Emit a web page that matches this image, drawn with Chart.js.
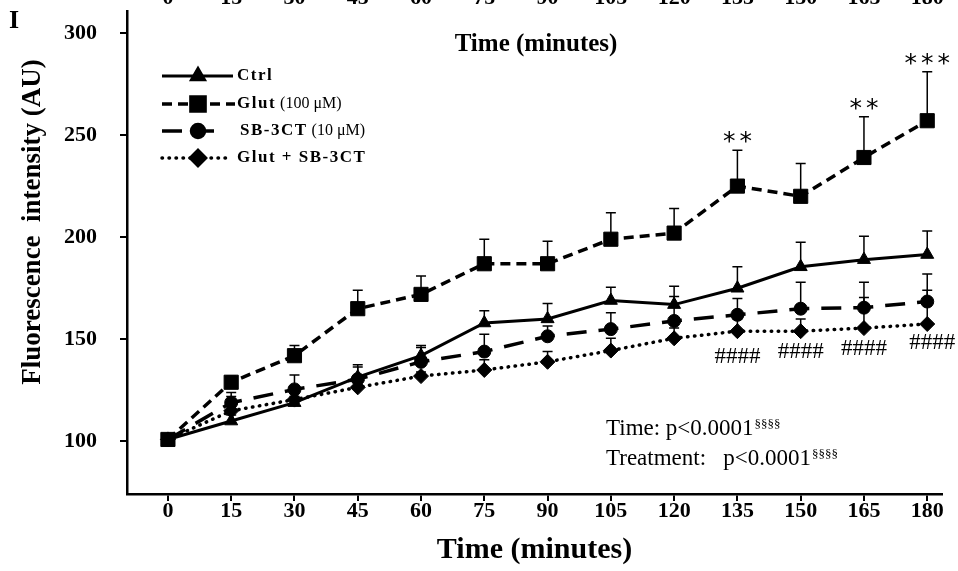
<!DOCTYPE html>
<html>
<head>
<meta charset="utf-8">
<script src="https://cdn.jsdelivr.net/npm/chart.js@4.4.1/dist/chart.umd.min.js"></script>
<style>
  body { margin: 0; background: #fff; }
  #wrap { width: 958px; height: 571px; }
</style>
</head>
<body>
<div id="wrap"><canvas id="board" width="958" height="571"></canvas></div>
<script>
// data
const times = [0, 15, 30, 45, 60, 75, 90, 105, 120, 135, 150, 165, 180];
const yTicks = [100, 150, 200, 250, 300];

const ctrl    = [101, 110, 119, 131.5, 142, 158, 160, 169, 167, 175, 185.5, 189, 191.5];
const ctrlErr = [0, 3, 3, 6, 5, 6, 7.5, 6.5, 9, 10.5, 12, 11.5, 11.5];
const glut    = [101, 129, 142, 165, 172, 187, 187, 199, 202, 225, 220, 239, 257];
const glutErr = [0, 3, 5, 9, 9, 12, 11, 13, 12, 17.5, 16, 20, 24];
const sb      = [101, 119, 125.5, 130.5, 139, 144, 151.5, 155, 159, 162, 165, 165.5, 168.5];
const sbErr   = [0, 5, 7, 6, 7, 8.5, 5, 8, 12, 8, 13, 12.5, 13.5];
const gs      = [101, 115, 120.5, 126.5, 132, 135, 139, 144.5, 150.5, 154, 154, 155.5, 157.5];
const gsErr   = [0, 7, 3, 3, 2, 5, 5, 6, 5, 6, 6, 15, 16.5];

const glutStars = ["", "", "", "", "", "", "", "", "", "**", "", "**", "***"];
const gsHash    = ["", "", "", "", "", "", "", "", "", "####", "####", "####", "####"];

const legendParts = [
  [["Ctrl", true]],
  [["Glut", true], [" (100\u00a0\u03bcM)", false]],
  [["SB-3CT", true], [" (10\u00a0\u03bcM)", false]],
  [["Glut + SB-3CT", true]]
];
const statLines = [["Time: p<0.0001", "\u00a7\u00a7\u00a7\u00a7"], ["Treatment:   p<0.0001", "\u00a7\u00a7\u00a7\u00a7"]];

const serif = "'Liberation Serif', 'Times New Roman', serif";

function pts(vals) {
  return times.map((t, i) => ({ x: t, y: vals[i] }));
}

const errs = [ctrlErr, glutErr, sbErr, gsErr];

const errorBars = {
  id: "errorBars",
  beforeDatasetsDraw(chart) {
    const ctx = chart.ctx;
    const ys = chart.scales.y;
    ctx.save();
    ctx.strokeStyle = "#000";
    ctx.lineWidth = 1.5;
    chart.data.datasets.forEach((ds, i) => {
      const meta = chart.getDatasetMeta(i);
      meta.data.forEach((p, j) => {
        const e = errs[i][j];
        if (!e) return;
        const top = ys.getPixelForValue(ds.data[j].y + e);
        ctx.beginPath();
        ctx.moveTo(p.x, p.y);
        ctx.lineTo(p.x, top);
        ctx.moveTo(p.x - 5, top);
        ctx.lineTo(p.x + 5, top);
        ctx.stroke();
      });
    });
    ctx.restore();
  }
};

const extras = {
  id: "extras",
  afterDraw(chart) {
    const ctx = chart.ctx;
    const xs = chart.scales.x, ys = chart.scales.y;
    ctx.save();
    ctx.fillStyle = "#000";

    // significance marks
    const gMeta = chart.getDatasetMeta(1);
    ctx.font = "25px 'DejaVu Sans'";
    ctx.textAlign = "center";
    ctx.textBaseline = "alphabetic";
    ctx.letterSpacing = "4px";
    glutStars.forEach((s, j) => {
      if (!s) return;
      const top = ys.getPixelForValue(glut[j] + glutErr[j]);
      ctx.fillText(s, gMeta.data[j].x + 2, top - 1);
    });
    ctx.letterSpacing = "0px";
    const hMeta = chart.getDatasetMeta(3);
    const hashDy = [26, 21, 21, 19];
    ctx.font = "23px " + serif;
    ctx.textBaseline = "middle";
    let k = 0;
    gsHash.forEach((s, j) => {
      if (!s) return;
      ctx.fillText(s, hMeta.data[j].x + (j === 12 ? 5 : 0), hMeta.data[j].y + hashDy[k++]);
    });

    // stats text
    ctx.textAlign = "left";
    ctx.textBaseline = "alphabetic";
    statLines.forEach((ln, i) => {
      const y = 435 + i * 30;
      ctx.font = "23px " + serif;
      ctx.fillText(ln[0], 606, y);
      const w = ctx.measureText(ln[0]).width;
      ctx.font = "13px " + serif;
      ctx.fillText(ln[1], 606 + w + 1, y - 7);
    });

    // legend
    const rows = [76, 104, 131, 158];
    const lineEnds = [233, 235, 223, 228];
    chart.data.datasets.forEach((ds, i) => {
      const y = rows[i];
      ctx.save();
      ctx.strokeStyle = "#000";
      ctx.lineWidth = ds.borderWidth;
      ctx.lineCap = ds.borderCapStyle || "butt";
      ctx.setLineDash(ds.borderDash || []);
      ctx.beginPath();
      ctx.moveTo(162, y);
      ctx.lineTo(lineEnds[i], y);
      ctx.stroke();
      ctx.setLineDash([]);
      ctx.fillStyle = "#000";
      Chart.helpers.drawPoint(ctx, { pointStyle: ds.pointStyle, radius: ds.pointRadius, borderWidth: 1, rotation: 0 }, 198, y);
      ctx.restore();
      let x = i === 2 ? 240 : 237;
      ctx.textBaseline = "middle";
      legendParts[i].forEach(([t, b]) => {
        ctx.letterSpacing = b ? "1.5px" : "0px";
        ctx.font = b ? "bold 17px " + serif : "16px " + serif;
        ctx.fillText(t, x, y);
        x += ctx.measureText(t).width;
      });
      ctx.letterSpacing = "0px";
    });

    // y axis title
    ctx.save();
    ctx.translate(33, 222);
    ctx.rotate(-Math.PI / 2);
    ctx.font = "bold 27px " + serif;
    ctx.textAlign = "center";
    ctx.textBaseline = "middle";
    ctx.fillText("Fluorescence  intensity (AU)", 0, 0);
    ctx.restore();

    // top: cropped tick labels of the panel above, its title, panel letter
    ctx.font = "bold 22px " + serif;
    ctx.textAlign = "center";
    ctx.textBaseline = "alphabetic";
    xs.ticks.forEach(t => {
      ctx.fillText(String(t.value), xs.getPixelForValue(t.value), 4);
    });
    ctx.font = "bold 25px " + serif;
    ctx.textBaseline = "middle";
    ctx.fillText("Time (minutes)", 536, 45);
    ctx.font = "bold 26px " + serif;
    ctx.textAlign = "left";
    ctx.fillText("I", 9, 21);
    ctx.restore();
  }
};

const tickFont = { family: serif, size: 22, weight: "bold" };

new Chart(document.getElementById("board"), {
  type: "line",
  data: {
    datasets: [
      {
        label: "Ctrl", data: pts(ctrl), order: 2,
        borderColor: "#000", backgroundColor: "#000", borderWidth: 3,
        pointStyle: "triangle", pointRadius: 7.5, pointBorderWidth: 1
      },
      {
        label: "Glut (100 μM)", data: pts(glut), order: 0,
        borderColor: "#000", backgroundColor: "#000", borderWidth: 3.5, borderDash: [10, 6],
        pointStyle: "rect", pointRadius: 10, pointBorderWidth: 1
      },
      {
        label: "SB-3CT (10 μM)", data: pts(sb), order: 3,
        borderColor: "#000", backgroundColor: "#000", borderWidth: 3.5, borderDash: [20, 12],
        pointStyle: "circle", pointRadius: 6.5, pointBorderWidth: 1
      },
      {
        label: "Glut + SB-3CT", data: pts(gs), order: 1,
        borderColor: "#000", backgroundColor: "#000", borderWidth: 3.5, borderDash: [0.5, 6.5], borderCapStyle: "round",
        pointStyle: "rectRot", pointRadius: 7.5, pointBorderWidth: 1
      }
    ]
  },
  options: {
    responsive: false,
    animation: false,
    layout: { padding: { top: 7, right: 16, left: 0, bottom: 0 } },
    plugins: { legend: { display: false }, tooltip: { enabled: false } },
    elements: { line: { tension: 0 } },
    scales: {
      x: {
        type: "linear", min: -9.7, max: 183.5,
        afterBuildTicks: s => { s.ticks = times.map(v => ({ value: v })); },
        afterFit: s => { s.height = 77; },
        ticks: { font: tickFont, color: "#000", padding: -3, autoSkip: false, maxRotation: 0, callback: v => String(v) },
        grid: { drawOnChartArea: false, drawTicks: true, tickLength: 7, color: "#000", lineWidth: 2 },
        border: { color: "#000", width: 2.5 },
        title: { display: true, text: "Time (minutes)", font: { family: serif, size: 30, weight: "bold" }, color: "#000", padding: { top: 0, bottom: 3 } }
      },
      y: {
        min: 74.3, max: 310.7,
        afterBuildTicks: s => { s.ticks = yTicks.map(v => ({ value: v })); },
        afterFit: s => { s.width = 127; s.paddingTop = 0; s.paddingBottom = 0; },
        ticks: { font: tickFont, color: "#000", padding: 23, callback: v => String(v) },
        grid: { drawOnChartArea: false, drawTicks: true, tickLength: 7, color: "#000", lineWidth: 2 },
        border: { color: "#000", width: 2.5 }
      }
    }
  },
  plugins: [errorBars, extras]
});
</script>
</body>
</html>
